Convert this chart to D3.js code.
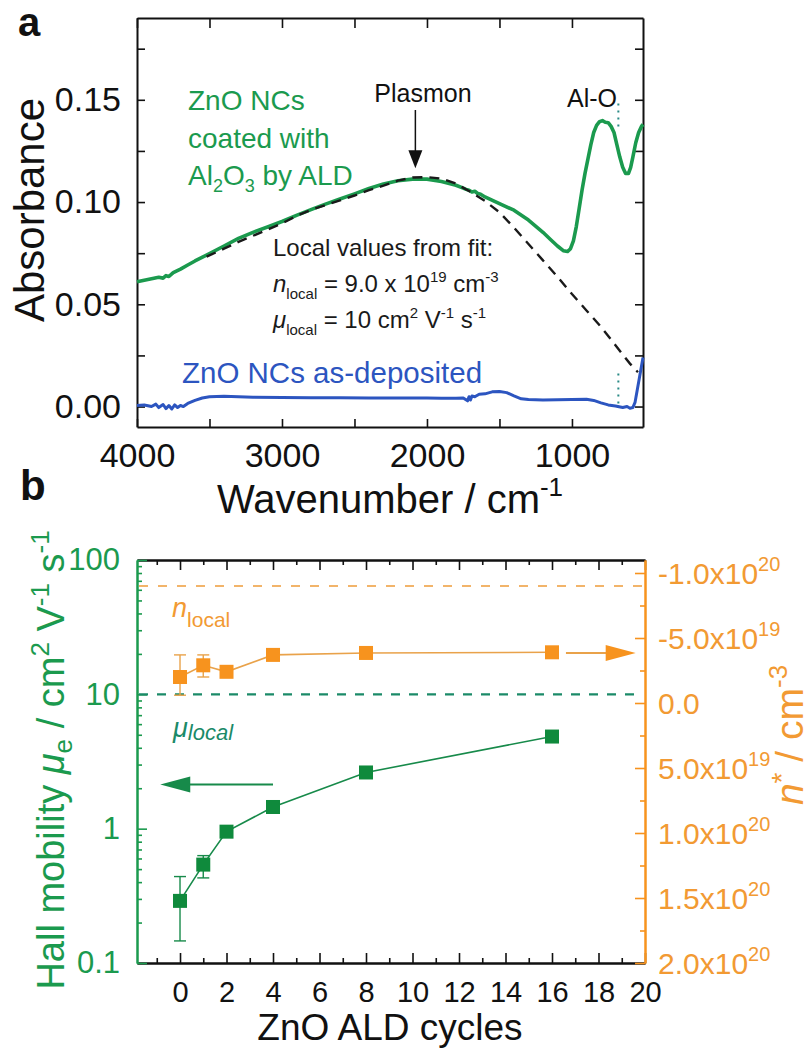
<!DOCTYPE html>
<html>
<head>
<meta charset="utf-8">
<script src="https://cdn.jsdelivr.net/npm/d3@7"></script>
<style>
  body { margin: 0; background: #fff; }
</style>
</head>
<body>
<div id="chart"></div>
<script>
// ---------- panel a: FTIR absorbance spectra ----------
var wnCoated = [4000,3950,3900,3850,3820,3800,3780,3750,3700,3650,3600,3500,3400,3300,3200,3100,3000,2900,2800,2700,2600,2500,2400,2300,2200,2100,2000,1900,1800,1750,1730,1710,1690,1670,1650,1630,1600,1500,1400,1300,1200,1150,1100,1060,1030,1010,990,970,950,930,910,890,870,850,830,810,790,770,750,730,710,690,670,650,630,610,595,580,560,540,520,510];
var absCoated = [0.061,0.0618,0.0625,0.0632,0.0628,0.064,0.0636,0.0655,0.0672,0.0692,0.0712,0.0748,0.0785,0.0822,0.0852,0.0878,0.0905,0.0935,0.0963,0.099,0.1015,0.104,0.1066,0.1088,0.1104,0.1112,0.1112,0.11,0.1082,0.1068,0.1062,0.1058,0.1049,0.1053,0.1042,0.1038,0.1025,0.0992,0.096,0.0912,0.0852,0.0818,0.0785,0.0762,0.0758,0.0772,0.081,0.088,0.097,0.106,0.114,0.121,0.128,0.134,0.1375,0.1393,0.1398,0.139,0.1388,0.137,0.134,0.128,0.122,0.117,0.114,0.114,0.117,0.122,0.129,0.134,0.137,0.138];

var wnFit = [3520,3400,3300,3200,3100,3000,2900,2800,2700,2600,2500,2400,2300,2200,2100,2000,1900,1800,1700,1600,1500,1400,1300,1200,1100,1000,900,800,700,600,545];
var absFit = [0.0733,0.0772,0.0805,0.0835,0.0865,0.0895,0.0932,0.0962,0.0985,0.1008,0.1032,0.1058,0.108,0.1105,0.112,0.1122,0.1115,0.109,0.105,0.1005,0.095,0.0875,0.0795,0.0715,0.0635,0.055,0.047,0.039,0.030,0.021,0.0168];

var wnBare = [4000,3950,3900,3870,3850,3820,3800,3780,3760,3740,3720,3700,3680,3650,3600,3550,3500,3400,3300,3200,3000,2800,2600,2400,2200,2000,1900,1800,1750,1720,1710,1700,1690,1670,1640,1600,1550,1500,1450,1400,1350,1300,1200,1100,1000,900,850,800,750,700,650,620,600,580,565,550,535,520,510];
var absBare = [0.0005,0.0008,0.0,0.0012,-0.0005,0.001,-0.001,0.0005,-0.0012,0.0008,-0.0005,0.0005,0.0,0.0015,0.003,0.0042,0.0048,0.005,0.0048,0.0046,0.0044,0.0043,0.0043,0.0042,0.0042,0.0042,0.0041,0.004,0.0042,0.0028,0.0048,0.0032,0.0052,0.0048,0.006,0.0062,0.0072,0.0074,0.0068,0.0052,0.0038,0.0034,0.0032,0.0033,0.0035,0.0036,0.003,0.0018,0.0008,0.0003,-0.0005,0.0,-0.0008,-0.0005,0.002,0.008,0.014,0.02,0.024];

var aTickX = [4000,3500,3000,2500,2000,1500,1000,500];
var aTickY = [0,0.025,0.05,0.075,0.1,0.125,0.15,0.175];
var alOMarkWn = 680;
var alOMarkAbs = [[0.137,0.150],[0.0015,0.0162]];
var plasmonArrow = {wn: 2080, from: 0.145, to: 0.1165};

// ---------- panel b: Hall mobility and carrier density ----------
var cycles = [0,1,2,4,8,16];
var mobility = [0.29,0.54,0.95,1.45,2.62,4.85];
var mobLow = [0.146,0.43,null,null,null,null];
var mobHigh = [0.44,0.63,null,null,null,null];
var nStar = [-2.0e19,-2.9e19,-2.4e19,-3.7e19,-3.85e19,-3.9e19];
var nLow = [-3.7e19,-3.7e19,null,null,null,null];
var nHigh = [-0.6e19,-2.0e19,null,null,null,null];
var muLocal = 10;
var nLocal = -9.0e19;
var bTickX = [0,2,4,6,8,10,12,14,16,18,20];
var bTickXMinor = [-1,1,3,5,7,9,11,13,15,17,19];
var bTickMu = [0.1,1,10,100];
var bTickN = [-1.0e20,-5.0e19,0,5.0e19,1.0e20,1.5e20,2.0e20];
var bTickNMinor = [-7.5e19,-2.5e19,2.5e19,7.5e19,1.25e20,1.75e20];
var arrowMu = {x: [4, -0.85], mu: 2.13};
var arrowN = {x: [16.6, 19.6], n: -3.85e19};

var FONT = '"Liberation Sans", Arial, sans-serif';
var GREEN = '#1b9a4e', GREEN_B = '#0f8a3c', TEAL = '#1b8a68';
var BLUE = '#2c55c0', ORANGE = '#f7931e', ORANGE_TXT = '#f29a33', ORANGE_LT = '#f2b46a';

var svg = d3.select('#chart').append('svg')
    .attr('width', 812).attr('height', 1051)
    .style('font-family', FONT);

function styleAxis(g, color, fs) {
    g.attr('font-family', FONT).attr('font-size', fs);
    g.select('.domain').attr('stroke', color).attr('stroke-width', 2);
    g.selectAll('.tick line').attr('stroke', color).attr('stroke-width', 1.6);
    g.selectAll('.tick text').attr('fill', color);
}

function arrowHead(g, x, y, dir, len, half, color) {
    // dir: 'down', 'left', 'right'
    var pts;
    if (dir === 'down') pts = [[x, y], [x - half, y - len], [x + half, y - len]];
    if (dir === 'left') pts = [[x, y], [x + len, y - half], [x + len, y + half]];
    if (dir === 'right') pts = [[x, y], [x - len, y - half], [x - len, y + half]];
    g.append('polygon').attr('points', pts.map(function(p){ return p.join(','); }).join(' '))
        .attr('fill', color);
}

// =============== PANEL A ===============
var pa = {left: 137, right: 643, top: 18, bottom: 427};
var xA = d3.scaleLinear().domain([4000, 510]).range([pa.left, pa.right]);
var yA = d3.scaleLinear().domain([-0.01, 0.19]).range([pa.bottom, pa.top]);
var gA = svg.append('g');

var axB = gA.append('g').attr('transform', 'translate(0,' + pa.bottom + ')')
    .call(d3.axisBottom(xA).tickValues(aTickX.filter(function(d){ return d > 510; }))
        .tickSize(-8).tickSizeOuter(0).tickPadding(16)
        .tickFormat(function(d){ return d % 1000 === 0 ? d : ''; }));
styleAxis(axB, '#111', 34);
var axT = gA.append('g').attr('transform', 'translate(0,' + pa.top + ')')
    .call(d3.axisTop(xA).tickValues(aTickX.filter(function(d){ return d > 510; }))
        .tickSize(-10).tickSizeOuter(0).tickFormat(''));
styleAxis(axT, '#111', 34);
var axL = gA.append('g').attr('transform', 'translate(' + pa.left + ',0)')
    .call(d3.axisLeft(yA).tickValues(aTickY).tickSize(-8).tickSizeOuter(0).tickPadding(16)
        .tickFormat(function(d){ return Math.round(d * 1000) % 50 === 0 ? d3.format('.2f')(d) : ''; }));
styleAxis(axL, '#111', 34);
var axR = gA.append('g').attr('transform', 'translate(' + pa.right + ',0)')
    .call(d3.axisRight(yA).tickValues(aTickY).tickSize(-8).tickSizeOuter(0).tickFormat(''));
styleAxis(axR, '#111', 34);

var lineA = d3.line().x(function(d){ return xA(d[0]); }).y(function(d){ return yA(d[1]); });

gA.append('path').datum(d3.zip(wnBare, absBare))
    .attr('fill', 'none').attr('stroke', BLUE).attr('stroke-width', 3)
    .attr('stroke-linejoin', 'round').attr('d', lineA);
gA.append('path').datum(d3.zip(wnCoated, absCoated))
    .attr('fill', 'none').attr('stroke', GREEN).attr('stroke-width', 3.6)
    .attr('stroke-linejoin', 'round').attr('d', lineA);
gA.append('path').datum(d3.zip(wnFit, absFit))
    .attr('fill', 'none').attr('stroke', '#1a1a1a').attr('stroke-width', 2.4)
    .attr('stroke-dasharray', '10 7').attr('d', lineA);

// Al-O position markers (dotted)
alOMarkAbs.forEach(function(r) {
    gA.append('line')
        .attr('x1', xA(alOMarkWn)).attr('x2', xA(alOMarkWn))
        .attr('y1', yA(r[0])).attr('y2', yA(r[1]))
        .attr('stroke', '#2a8a86').attr('stroke-width', 2).attr('stroke-dasharray', '2 5');
});

// plasmon arrow
gA.append('line')
    .attr('x1', xA(plasmonArrow.wn)).attr('x2', xA(plasmonArrow.wn))
    .attr('y1', yA(plasmonArrow.from)).attr('y2', yA(plasmonArrow.to) - 15)
    .attr('stroke', '#111').attr('stroke-width', 1.5);
arrowHead(gA, xA(plasmonArrow.wn), yA(plasmonArrow.to), 'down', 18, 7, '#111');

// annotations
gA.append('text').attr('x', 423).attr('y', 102).attr('text-anchor', 'middle')
    .attr('font-size', 25).attr('fill', '#111').text('Plasmon');
gA.append('text').attr('x', 567).attr('y', 107)
    .attr('font-size', 25).attr('fill', '#111').text('Al-O');

var greenLbl = gA.append('g').attr('fill', GREEN).attr('font-size', 28);
greenLbl.append('text').attr('x', 188).attr('y', 110).text('ZnO NCs');
greenLbl.append('text').attr('x', 188).attr('y', 148).text('coated with');
var t3 = greenLbl.append('text').attr('x', 188).attr('y', 185);
t3.append('tspan').text('Al');
t3.append('tspan').attr('font-size', 18).attr('dy', 7).text('2');
t3.append('tspan').attr('dy', -7).text('O');
t3.append('tspan').attr('font-size', 18).attr('dy', 7).text('3');
t3.append('tspan').attr('dy', -7).text(' by ALD');

var fitLbl = gA.append('g').attr('fill', '#1a1a1a').attr('font-size', 24);
fitLbl.append('text').attr('x', 273).attr('y', 256).text('Local values from fit:');
var tn = fitLbl.append('text').attr('x', 273).attr('y', 292);
tn.append('tspan').attr('font-style', 'italic').text('n');
tn.append('tspan').attr('font-size', 15).attr('dy', 7).text('local');
tn.append('tspan').attr('dy', -7).text(' = 9.0 x 10');
tn.append('tspan').attr('font-size', 15).attr('dy', -10).text('19');
tn.append('tspan').attr('dy', 10).text(' cm');
tn.append('tspan').attr('font-size', 15).attr('dy', -10).text('-3');
var tm = fitLbl.append('text').attr('x', 273).attr('y', 328);
tm.append('tspan').attr('font-style', 'italic').text('\u03bc');
tm.append('tspan').attr('font-size', 15).attr('dy', 7).text('local');
tm.append('tspan').attr('dy', -7).text(' = 10 cm');
tm.append('tspan').attr('font-size', 15).attr('dy', -10).text('2');
tm.append('tspan').attr('dy', 10).text(' V');
tm.append('tspan').attr('font-size', 15).attr('dy', -10).text('-1');
tm.append('tspan').attr('dy', 10).text(' s');
tm.append('tspan').attr('font-size', 15).attr('dy', -10).text('-1');

gA.append('text').attr('x', 182).attr('y', 383).attr('font-size', 29.5)
    .attr('fill', BLUE).text('ZnO NCs as-deposited');

// axis titles
gA.append('text').attr('transform', 'translate(44,210) rotate(-90)')
    .attr('text-anchor', 'middle').attr('font-size', 42).attr('fill', '#111').text('Absorbance');
var xt = gA.append('text').attr('x', 390).attr('y', 513).attr('text-anchor', 'middle')
    .attr('font-size', 40).attr('fill', '#111');
xt.append('tspan').text('Wavenumber / cm');
xt.append('tspan').attr('font-size', 26).attr('dy', -17).text('-1');

svg.append('text').attr('x', 18).attr('y', 36).attr('font-size', 40)
    .attr('font-weight', 'bold').attr('fill', '#111').text('a');
svg.append('text').attr('x', 20).attr('y', 500).attr('font-size', 42)
    .attr('font-weight', 'bold').attr('fill', '#111').text('b');

// =============== PANEL B ===============
var pb = {left: 137, right: 645, top: 560, bottom: 963};
var xB = d3.scaleLinear().domain([-1.85, 20]).range([pb.left, pb.right]);
var yMu = d3.scaleLog().domain([0.1, 100]).range([pb.bottom, pb.top]);
var yN = d3.scaleLinear().domain([2.0e20, -1.1e20]).range([pb.bottom, pb.top]);
var gB = svg.append('g');

var muMinor = [];
[0.1, 1, 10].forEach(function(dec) {
    for (var k = 2; k <= 9; k++) muMinor.push(dec * k);
});

// bottom / top (black)
var bB = gB.append('g').attr('transform', 'translate(0,' + pb.bottom + ')')
    .call(d3.axisBottom(xB).tickValues(bTickX).tickSize(-10).tickSizeOuter(0).tickPadding(18));
styleAxis(bB, '#111', 29);
var bBm = gB.append('g').attr('transform', 'translate(0,' + pb.bottom + ')')
    .call(d3.axisBottom(xB).tickValues(bTickXMinor).tickSize(-5).tickSizeOuter(0).tickFormat(''));
styleAxis(bBm, '#111', 29);
var bT = gB.append('g').attr('transform', 'translate(0,' + pb.top + ')')
    .call(d3.axisTop(xB).tickValues(bTickX).tickSize(-10).tickSizeOuter(0).tickFormat(''));
styleAxis(bT, '#111', 29);
var bTm = gB.append('g').attr('transform', 'translate(0,' + pb.top + ')')
    .call(d3.axisTop(xB).tickValues(bTickXMinor).tickSize(-5).tickSizeOuter(0).tickFormat(''));
styleAxis(bTm, '#111', 29);

// left (green, log)
var bL = gB.append('g').attr('transform', 'translate(' + pb.left + ',0)')
    .call(d3.axisLeft(yMu).tickValues(bTickMu).tickSize(-10).tickSizeOuter(0).tickPadding(17)
        .tickFormat(function(d){ return d < 1 ? '0.1' : String(d); }));
styleAxis(bL, GREEN, 31);
var bLm = gB.append('g').attr('transform', 'translate(' + pb.left + ',0)')
    .call(d3.axisLeft(yMu).tickValues(muMinor).tickSize(-5).tickSizeOuter(0).tickFormat(''));
styleAxis(bLm, GREEN, 31);

// right (orange, linear, reversed)
var bR = gB.append('g').attr('transform', 'translate(' + pb.right + ',0)')
    .call(d3.axisRight(yN).tickValues(bTickN).tickSize(-10).tickSizeOuter(0).tickFormat(''));
styleAxis(bR, ORANGE, 30);
var bRm = gB.append('g').attr('transform', 'translate(' + pb.right + ',0)')
    .call(d3.axisRight(yN).tickValues(bTickNMinor).tickSize(-5).tickSizeOuter(0).tickFormat(''));
styleAxis(bRm, ORANGE, 30);

bTickN.forEach(function(v) {
    var t = gB.append('text').attr('x', pb.right + 13).attr('y', yN(v) + 11)
        .attr('font-size', 30).attr('fill', ORANGE_TXT);
    if (v === 0) { t.text('0.0'); return; }
    var e = Math.floor(Math.log10(Math.abs(v)) + 1e-9);
    var m = v / Math.pow(10, e);
    t.append('tspan').text(m.toFixed(1) + 'x10');
    t.append('tspan').attr('font-size', 20).attr('dy', -13).text(String(e));
});

// reference dashed lines
gB.append('line').attr('x1', pb.left + 2).attr('x2', pb.right - 2)
    .attr('y1', yN(nLocal)).attr('y2', yN(nLocal))
    .attr('stroke', ORANGE_LT).attr('stroke-width', 2).attr('stroke-dasharray', '9 10');
gB.append('line').attr('x1', pb.left + 2).attr('x2', pb.right - 2)
    .attr('y1', yMu(muLocal)).attr('y2', yMu(muLocal))
    .attr('stroke', TEAL).attr('stroke-width', 2.2).attr('stroke-dasharray', '9 9');

// n* series (orange, right axis)
var lineN = d3.line().x(function(d){ return xB(d[0]); }).y(function(d){ return yN(d[1]); });
gB.append('path').datum(d3.zip(cycles, nStar))
    .attr('fill', 'none').attr('stroke', '#e9a24a').attr('stroke-width', 1.6).attr('d', lineN);
cycles.forEach(function(c, i) {
    if (nLow[i] === null) return;
    var x = xB(c);
    gB.append('line').attr('x1', x).attr('x2', x).attr('y1', yN(nLow[i])).attr('y2', yN(nHigh[i]))
        .attr('stroke', '#e9a24a').attr('stroke-width', 1.4);
    [nLow[i], nHigh[i]].forEach(function(v) {
        gB.append('line').attr('x1', x - 6).attr('x2', x + 6).attr('y1', yN(v)).attr('y2', yN(v))
            .attr('stroke', '#e9a24a').attr('stroke-width', 1.4);
    });
});
gB.selectAll('.sqN').data(d3.zip(cycles, nStar)).enter().append('rect')
    .attr('class', 'sqN')
    .attr('x', function(d){ return xB(d[0]) - 7; }).attr('y', function(d){ return yN(d[1]) - 7; })
    .attr('width', 14).attr('height', 14).attr('fill', ORANGE);

// mobility series (green, left axis)
var lineMu = d3.line().x(function(d){ return xB(d[0]); }).y(function(d){ return yMu(d[1]); });
gB.append('path').datum(d3.zip(cycles, mobility))
    .attr('fill', 'none').attr('stroke', '#178a4a').attr('stroke-width', 1.6).attr('d', lineMu);
cycles.forEach(function(c, i) {
    if (mobLow[i] === null) return;
    var x = xB(c);
    gB.append('line').attr('x1', x).attr('x2', x).attr('y1', yMu(mobLow[i])).attr('y2', yMu(mobHigh[i]))
        .attr('stroke', '#178a4a').attr('stroke-width', 1.4);
    [mobLow[i], mobHigh[i]].forEach(function(v) {
        gB.append('line').attr('x1', x - 6).attr('x2', x + 6).attr('y1', yMu(v)).attr('y2', yMu(v))
            .attr('stroke', '#178a4a').attr('stroke-width', 1.4);
    });
});
gB.selectAll('.sqMu').data(d3.zip(cycles, mobility)).enter().append('rect')
    .attr('class', 'sqMu')
    .attr('x', function(d){ return xB(d[0]) - 7; }).attr('y', function(d){ return yMu(d[1]) - 7; })
    .attr('width', 14).attr('height', 14).attr('fill', GREEN_B);

// axis-pointer arrows
gB.append('line').attr('x1', xB(arrowMu.x[0])).attr('x2', xB(arrowMu.x[1]) + 25)
    .attr('y1', yMu(arrowMu.mu)).attr('y2', yMu(arrowMu.mu))
    .attr('stroke', '#178a4a').attr('stroke-width', 2);
arrowHead(gB, xB(arrowMu.x[1]), yMu(arrowMu.mu), 'left', 30, 8, '#178a4a');
gB.append('line').attr('x1', xB(arrowN.x[0])).attr('x2', xB(arrowN.x[1]) - 25)
    .attr('y1', yN(arrowN.n)).attr('y2', yN(arrowN.n))
    .attr('stroke', '#e9a24a').attr('stroke-width', 2);
arrowHead(gB, xB(arrowN.x[1]), yN(arrowN.n), 'right', 30, 8, ORANGE);

// series labels
var nl = gB.append('text').attr('x', 172).attr('y', 617).attr('fill', ORANGE_TXT).attr('font-size', 27);
nl.append('tspan').attr('font-style', 'italic').text('n');
nl.append('tspan').attr('font-size', 21).attr('dy', 10).text('local');
var ml = gB.append('text').attr('x', 173).attr('y', 737).attr('fill', TEAL)
    .attr('font-size', 27).attr('font-style', 'italic');
ml.append('tspan').text('\u03bc');
ml.append('tspan').attr('font-size', 22).attr('dy', 3).text('local');

// axis titles
var yl = gB.append('text').attr('transform', 'translate(64,760) rotate(-90)')
    .attr('text-anchor', 'middle').attr('font-size', 38).attr('fill', GREEN);
yl.append('tspan').text('Hall mobility ');
yl.append('tspan').attr('font-style', 'italic').text('\u03bc');
yl.append('tspan').attr('font-size', 26).attr('dy', 8).text('e');
yl.append('tspan').attr('dy', -8).text(' / cm');
yl.append('tspan').attr('font-size', 26).attr('dy', -15).text('2');
yl.append('tspan').attr('dy', 15).text(' V');
yl.append('tspan').attr('font-size', 26).attr('dy', -15).text('-1');
yl.append('tspan').attr('dy', 15).text(' s');
yl.append('tspan').attr('font-size', 26).attr('dy', -15).text('-1');

var yr = gB.append('text').attr('transform', 'translate(803,735) rotate(-90)')
    .attr('text-anchor', 'middle').attr('font-size', 39).attr('fill', ORANGE_TXT);
yr.append('tspan').attr('font-style', 'italic').text('n');
yr.append('tspan').attr('font-size', 28).attr('dy', -12).text('*');
yr.append('tspan').attr('dy', 12).text(' / cm');
yr.append('tspan').attr('font-size', 26).attr('dy', -16).text('-3');

gB.append('text').attr('x', 390).attr('y', 1040).attr('text-anchor', 'middle')
    .attr('font-size', 37).attr('fill', '#111').text('ZnO ALD cycles');
</script>
</body>
</html>
